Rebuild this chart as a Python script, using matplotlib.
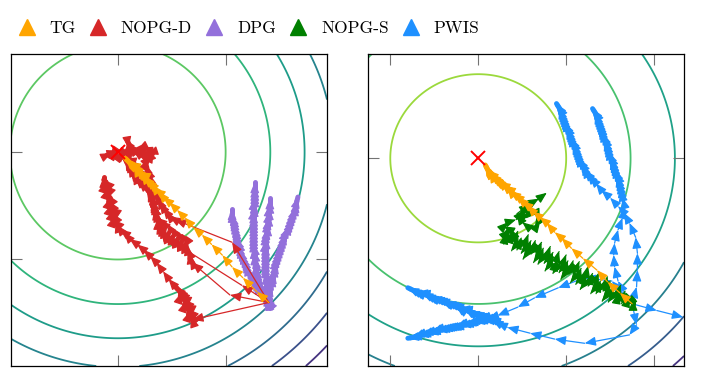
import numpy as np
import matplotlib.pyplot as plt
from matplotlib.colors import Normalize
from matplotlib.lines import Line2D
from matplotlib.patches import FancyArrowPatch
from matplotlib.collections import LineCollection

plt.rcParams['font.family'] = ['cmr10', 'DejaVu Serif']

# method colours / labels
labels = ['TG', 'NOPG-D', 'DPG', 'NOPG-S', 'PWIS']
colors = {'TG': '#FFA500', 'NOPG-D': '#D62728', 'DPG': '#9370DB',
          'NOPG-S': '#008000', 'PWIS': '#1E90FF'}

# contour levels of the quadratic objective
levels_left = [1, 2, 3, 4, 5, 6, 7]
levels_right = [1, 3, 5, 7, 9, 11]

# ---- left panel trajectories (x, y) ----
tg_left = [(1.40, -1.40), (1.29, -1.30), (1.16, -1.17), (1.06, -1.07), (0.97, -0.96),
           (0.87, -0.86), (0.78, -0.77), (0.70, -0.70), (0.62, -0.61), (0.55, -0.54),
           (0.48, -0.47), (0.42, -0.42), (0.38, -0.37), (0.34, -0.34), (0.31, -0.30),
           (0.28, -0.27), (0.26, -0.25), (0.24, -0.23), (0.22, -0.20), (0.20, -0.19),
           (0.18, -0.17), (0.17, -0.16), (0.16, -0.15), (0.15, -0.13), (0.14, -0.12),
           (0.13, -0.11), (0.11, -0.10), (0.10, -0.09), (0.09, -0.08), (0.08, -0.07),
           (0.07, -0.06)]

dpg_1 = [(1.40, -1.40), (1.38, -1.375), (1.36, -1.35), (1.34, -1.325), (1.32, -1.30),
         (1.30, -1.275), (1.28, -1.25), (1.265, -1.22), (1.25, -1.19), (1.235, -1.16),
         (1.22, -1.13), (1.205, -1.105), (1.19, -1.08), (1.18, -1.05), (1.17, -1.02),
         (1.16, -0.995), (1.15, -0.97), (1.14, -0.94), (1.13, -0.91), (1.125, -0.885),
         (1.12, -0.86), (1.11, -0.83), (1.10, -0.80), (1.095, -0.77), (1.09, -0.74),
         (1.085, -0.715), (1.08, -0.69), (1.075, -0.66), (1.07, -0.63), (1.065, -0.605),
         (1.06, -0.58), (1.06, -0.555), (1.06, -0.53)]
dpg_2 = [(1.40, -1.40), (1.38, -1.37), (1.365, -1.34), (1.35, -1.31), (1.335, -1.28),
         (1.32, -1.25), (1.31, -1.22), (1.30, -1.19), (1.295, -1.16), (1.29, -1.13),
         (1.285, -1.10), (1.28, -1.07), (1.28, -1.04), (1.275, -1.01), (1.27, -0.98),
         (1.27, -0.95), (1.265, -0.92), (1.265, -0.89), (1.26, -0.86), (1.26, -0.83),
         (1.26, -0.80), (1.26, -0.77), (1.26, -0.74), (1.26, -0.71), (1.26, -0.68),
         (1.26, -0.65), (1.26, -0.62), (1.26, -0.59), (1.26, -0.56), (1.265, -0.53),
         (1.265, -0.50), (1.265, -0.47), (1.27, -0.44), (1.27, -0.41), (1.27, -0.38),
         (1.27, -0.35), (1.27, -0.32), (1.27, -0.28)]
dpg_3 = [(1.40, -1.40), (1.395, -1.37), (1.39, -1.34), (1.39, -1.31), (1.385, -1.28),
         (1.385, -1.25), (1.38, -1.22), (1.38, -1.19), (1.375, -1.16), (1.375, -1.13),
         (1.37, -1.10), (1.37, -1.07), (1.37, -1.04), (1.37, -1.01), (1.37, -0.98),
         (1.37, -0.95), (1.37, -0.92), (1.37, -0.89), (1.37, -0.86), (1.375, -0.83),
         (1.375, -0.80), (1.38, -0.77), (1.385, -0.74), (1.39, -0.71), (1.39, -0.68),
         (1.395, -0.65), (1.40, -0.62), (1.40, -0.59), (1.405, -0.56), (1.405, -0.53),
         (1.41, -0.50), (1.41, -0.47), (1.41, -0.43)]
dpg_4 = [(1.40, -1.40), (1.40, -1.37), (1.405, -1.34), (1.41, -1.30), (1.415, -1.27),
         (1.42, -1.24), (1.43, -1.21), (1.44, -1.18), (1.445, -1.15), (1.45, -1.12),
         (1.46, -1.09), (1.465, -1.06), (1.47, -1.03), (1.48, -1.00), (1.49, -0.97),
         (1.50, -0.94), (1.51, -0.91), (1.52, -0.88), (1.53, -0.85), (1.54, -0.82),
         (1.55, -0.79), (1.56, -0.76), (1.575, -0.73), (1.59, -0.70), (1.60, -0.67),
         (1.61, -0.64), (1.62, -0.61), (1.63, -0.58), (1.64, -0.55), (1.65, -0.52),
         (1.655, -0.49), (1.66, -0.46), (1.67, -0.42)]

nopgd_1 = [(1.40, -1.40), (0.69, -1.56), (0.68, -1.53), (0.66, -1.51), (0.67, -1.48),
           (0.65, -1.46), (0.64, -1.43), (0.62, -1.42), (0.63, -1.39), (0.61, -1.37),
           (0.60, -1.35), (0.58, -1.34), (0.59, -1.31), (0.57, -1.29), (0.55, -1.27),
           (0.53, -1.25), (0.47, -1.18), (0.42, -1.11), (0.36, -1.03), (0.30, -0.97),
           (0.24, -0.91), (0.18, -0.86), (0.11, -0.81), (0.06, -0.75), (0.02, -0.72),
           (-0.01, -0.68), (-0.02, -0.65), (-0.04, -0.63), (-0.03, -0.60), (-0.05, -0.57),
           (-0.04, -0.54), (-0.07, -0.52), (-0.06, -0.49), (-0.08, -0.46), (-0.07, -0.43),
           (-0.09, -0.40), (-0.10, -0.37), (-0.09, -0.34), (-0.12, -0.31), (-0.11, -0.28),
           (-0.13, -0.26), (-0.13, -0.23)]
nopgd_2 = [(1.40, -1.40), (1.04, -1.33), (0.69, -1.03), (0.67, -0.99), (0.66, -0.94),
           (0.64, -0.90), (0.63, -0.86), (0.61, -0.89), (0.59, -0.84), (0.57, -0.87),
           (0.55, -0.82), (0.53, -0.85), (0.51, -0.79), (0.49, -0.82), (0.47, -0.76),
           (0.45, -0.79), (0.43, -0.73), (0.42, -0.76), (0.40, -0.70), (0.39, -0.73),
           (0.37, -0.66), (0.37, -0.62), (0.35, -0.58), (0.34, -0.53), (0.33, -0.48),
           (0.32, -0.44), (0.31, -0.39), (0.29, -0.33), (0.27, -0.29), (0.24, -0.24),
           (0.21, -0.20), (0.19, -0.17), (0.16, -0.13), (0.13, -0.10), (0.10, -0.07),
           (0.07, -0.06)]
nopgd_3 = [(1.40, -1.40), (1.15, -1.24), (0.44, -0.79), (0.42, -0.75), (0.40, -0.72),
           (0.39, -0.68), (0.38, -0.64), (0.36, -0.60), (0.35, -0.55), (0.33, -0.50),
           (0.32, -0.46), (0.30, -0.41), (0.28, -0.36), (0.26, -0.33), (0.22, -0.30),
           (0.19, -0.27), (0.16, -0.24), (0.14, -0.20), (0.12, -0.17), (0.10, -0.13),
           (0.08, -0.09), (0.07, -0.07), (0.02, -0.05), (-0.05, -0.02), (-0.10, -0.03),
           (-0.06, -0.01), (0.00, 0.01), (0.05, 0.00), (0.12, -0.02), (0.17, 0.01),
           (0.24, 0.00), (0.30, -0.03), (0.28, 0.02), (0.22, 0.04), (0.18, 0.02)]
nopgd_4 = [(1.40, -1.40), (1.06, -0.84), (0.53, -0.63), (0.48, -0.60), (0.45, -0.56),
           (0.42, -0.52), (0.39, -0.47), (0.37, -0.43), (0.35, -0.38), (0.33, -0.33),
           (0.32, -0.29), (0.30, -0.24), (0.29, -0.20), (0.27, -0.15), (0.26, -0.11),
           (0.28, -0.07), (0.31, -0.04), (0.33, 0.00), (0.27, -0.02), (0.22, -0.03),
           (0.18, -0.01), (0.14, 0.02), (0.11, 0.06), (0.09, 0.10), (0.10, 0.04),
           (0.07, -0.01), (0.03, -0.04), (-0.03, -0.05), (-0.07, -0.04), (-0.13, -0.03)]

# ---- right panel trajectories (x, y) ----
tg_right = [(1.75, -1.73), (1.61, -1.60), (1.47, -1.47), (1.35, -1.33), (1.19, -1.19),
            (1.06, -1.07), (0.95, -0.95), (0.87, -0.88), (0.78, -0.77), (0.70, -0.70),
            (0.62, -0.63), (0.56, -0.56), (0.50, -0.51), (0.45, -0.46), (0.40, -0.42),
            (0.36, -0.39), (0.33, -0.35), (0.30, -0.33), (0.27, -0.30), (0.24, -0.28),
            (0.22, -0.26), (0.20, -0.24), (0.19, -0.23), (0.17, -0.21), (0.16, -0.20),
            (0.14, -0.18), (0.13, -0.16), (0.11, -0.14), (0.10, -0.12), (0.09, -0.10),
            (0.08, -0.08)]

nopgs = [(1.76, -1.73), (1.76, -1.68), (1.68, -1.75), (1.71, -1.64), (1.63, -1.73),
         (1.67, -1.58), (1.57, -1.72), (1.59, -1.60), (1.62, -1.51), (1.48, -1.71),
         (1.54, -1.52), (1.41, -1.70), (1.50, -1.46), (1.42, -1.58), (1.47, -1.41),
         (1.34, -1.61), (1.39, -1.46), (1.28, -1.61), (1.37, -1.37), (1.25, -1.52),
         (1.30, -1.37), (1.16, -1.56), (1.23, -1.38), (1.25, -1.29), (1.11, -1.50),
         (1.17, -1.31), (1.05, -1.48), (1.15, -1.23), (1.03, -1.38), (1.08, -1.22),
         (0.94, -1.44), (1.02, -1.22), (0.92, -1.36), (1.00, -1.15), (0.85, -1.37),
         (0.89, -1.21), (0.92, -1.11), (0.76, -1.34), (0.85, -1.12), (0.75, -1.25),
         (0.82, -1.05), (0.68, -1.26), (0.74, -1.07), (0.63, -1.24), (0.72, -1.00),
         (0.60, -1.14), (0.65, -0.98), (0.51, -1.20), (0.60, -0.98), (0.49, -1.13),
         (0.57, -0.91), (0.44, -1.09), (0.49, -0.95), (0.38, -1.10), (0.45, -0.87),
         (0.35, -1.00), (0.39, -0.88), (0.29, -1.02), (0.32, -0.89), (0.36, -0.85),
         (0.29, -0.81), (0.34, -0.76), (0.43, -0.73), (0.52, -0.62), (0.47, -0.71),
         (0.59, -0.66), (0.67, -0.66), (0.70, -0.73), (0.64, -0.83), (0.56, -0.81),
         (0.50, -0.76), (0.44, -0.66), (0.59, -0.54), (0.69, -0.48), (0.78, -0.41)]

pwis_1 = [(1.75, -1.73), (1.80, -1.53), (1.81, -1.33), (1.81, -1.13), (1.79, -0.94),
          (1.72, -0.77), (1.66, -0.65), (1.59, -0.57), (1.50, -0.47), (1.40, -0.38),
          (1.34, -0.30), (1.27, -0.22), (1.24, -0.18), (1.21, -0.14), (1.195, -0.105),
          (1.18, -0.07), (1.16, -0.035), (1.14, 0.00), (1.13, 0.03), (1.12, 0.06),
          (1.11, 0.09), (1.10, 0.12), (1.09, 0.15), (1.08, 0.18), (1.065, 0.21),
          (1.05, 0.24), (1.04, 0.27), (1.03, 0.30), (1.02, 0.33), (1.01, 0.36),
          (0.995, 0.39), (0.98, 0.42), (0.97, 0.45), (0.96, 0.48), (0.95, 0.51),
          (0.94, 0.54), (0.93, 0.57), (0.92, 0.60), (0.905, 0.625), (0.89, 0.65)]
pwis_2 = [(1.75, -1.73), (1.67, -1.61), (1.59, -1.46), (1.55, -1.29), (1.54, -1.15),
          (1.55, -1.01), (1.59, -0.85), (1.64, -0.71), (1.67, -0.59), (1.64, -0.47),
          (1.62, -0.38), (1.61, -0.335), (1.60, -0.29), (1.59, -0.25), (1.58, -0.21),
          (1.565, -0.175), (1.55, -0.14), (1.54, -0.105), (1.53, -0.07), (1.52, -0.035),
          (1.51, 0.00), (1.495, 0.035), (1.48, 0.07), (1.47, 0.11), (1.46, 0.15),
          (1.45, 0.185), (1.44, 0.22), (1.425, 0.255), (1.41, 0.29), (1.40, 0.325),
          (1.39, 0.36), (1.38, 0.39), (1.37, 0.42), (1.36, 0.45), (1.35, 0.48),
          (1.34, 0.51), (1.33, 0.54), (1.315, 0.565), (1.30, 0.59)]
pwis_3 = [(1.75, -1.73), (1.80, -1.98), (1.72, -2.10), (1.21, -2.20), (0.87, -2.15),
          (0.59, -2.08), (0.33, -2.01), (0.21, -1.95), (0.16, -1.92), (0.13, -1.91),
          (0.10, -1.90), (0.075, -1.89), (0.05, -1.88), (0.025, -1.87), (0.00, -1.86),
          (-0.03, -1.85), (-0.06, -1.84), (-0.085, -1.83), (-0.11, -1.82), (-0.135, -1.805),
          (-0.16, -1.79), (-0.19, -1.785), (-0.22, -1.78), (-0.24, -1.765), (-0.26, -1.75),
          (-0.29, -1.74), (-0.32, -1.73), (-0.35, -1.72), (-0.38, -1.71), (-0.40, -1.70),
          (-0.42, -1.69), (-0.45, -1.68), (-0.48, -1.67), (-0.51, -1.66), (-0.54, -1.65),
          (-0.56, -1.64), (-0.58, -1.63), (-0.61, -1.615), (-0.64, -1.60), (-0.67, -1.595),
          (-0.70, -1.59), (-0.72, -1.58), (-0.74, -1.57), (-0.77, -1.555), (-0.80, -1.54)]
pwis_4 = [(1.75, -1.73), (1.52, -1.46), (1.21, -1.42), (0.91, -1.54), (0.64, -1.66),
          (0.45, -1.77), (0.22, -1.87), (0.11, -1.91), (0.08, -1.915), (0.05, -1.92),
          (0.03, -1.93), (0.01, -1.94), (-0.02, -1.945), (-0.05, -1.95), (-0.08, -1.96),
          (-0.11, -1.97), (-0.13, -1.975), (-0.15, -1.98), (-0.18, -1.985), (-0.21, -1.99),
          (-0.235, -2.00), (-0.26, -2.01), (-0.29, -2.015), (-0.32, -2.02), (-0.345, -2.025),
          (-0.37, -2.03), (-0.395, -2.035), (-0.42, -2.04), (-0.45, -2.045), (-0.48, -2.05),
          (-0.505, -2.06), (-0.53, -2.07), (-0.555, -2.075), (-0.58, -2.08), (-0.61, -2.09),
          (-0.64, -2.10), (-0.665, -2.105), (-0.69, -2.11), (-0.715, -2.12), (-0.74, -2.13),
          (-0.77, -2.135), (-0.80, -2.14)]
pwis_5 = [(1.75, -1.73), (2.03, -1.81), (2.33, -1.89)]


def draw_path(ax, pts, color, z):
    # runs of tiny steps merge into a solid band, as in the original arrow plot
    disp = ax.transData.transform(pts)
    short = [(p, q) for p, q, a, b in zip(pts[:-1], pts[1:], disp[:-1], disp[1:])
             if np.hypot(*(b - a)) < 5]
    if short:
        ax.add_collection(LineCollection(short, colors=color, linewidths=3.6,
                                         capstyle='round', zorder=z))
    for p, q in zip(pts[:-1], pts[1:]):
        ax.add_patch(FancyArrowPatch(p, q, arrowstyle='-|>,head_length=0.65,head_width=0.27',
                                     mutation_scale=10, color=color, lw=0.9,
                                     shrinkA=0, shrinkB=0, zorder=z))


def setup(ax, xlim, ylim, levels, norm, xticks, yticks):
    xs = np.linspace(xlim[0], xlim[1], 400)
    ys = np.linspace(ylim[0], ylim[1], 400)
    X, Y = np.meshgrid(xs, ys)
    ax.contour(X, Y, X**2 + Y**2, levels=levels, cmap='viridis_r', norm=norm,
               linewidths=1.3, zorder=1)
    ax.plot(0, 0, marker='x', color='red', ms=10, mew=1.4, zorder=10)
    ax.set_xlim(xlim)
    ax.set_ylim(ylim)
    ax.set_xticks(xticks)
    ax.set_yticks(yticks)
    ax.tick_params(direction='in', length=8, width=0.8, color='0.45',
                   top=True, right=True, labelbottom=False, labelleft=False)
    for s in ax.spines.values():
        s.set_linewidth(0.9)


fig = plt.figure(figsize=(7.01, 3.83), dpi=100)
ax1 = fig.add_axes([0.0157, 0.0444, 0.4508, 0.8146])
ax2 = fig.add_axes([0.5254, 0.0444, 0.4504, 0.8146])

setup(ax1, (-0.99, 1.94), (-1.99, 0.91), levels_left, Normalize(-1.5, 8.5), [0, 1], [-1, 0])
setup(ax2, (-1.25, 2.34), (-2.47, 1.24), levels_right, Normalize(-1.14, 13.14), [-1, 0, 1, 2], [0])

for path in [dpg_1, dpg_2, dpg_3, dpg_4]:
    draw_path(ax1, path, colors['DPG'], 3)
for path in [nopgd_1, nopgd_2, nopgd_3, nopgd_4]:
    draw_path(ax1, path, colors['NOPG-D'], 4)
draw_path(ax1, tg_left, colors['TG'], 5)

for path in [pwis_1, pwis_2, pwis_3, pwis_4, pwis_5]:
    draw_path(ax2, path, colors['PWIS'], 3)
draw_path(ax2, nopgs, colors['NOPG-S'], 4)
draw_path(ax2, tg_right, colors['TG'], 5)

handles = [Line2D([], [], marker='^', ls='none', color=colors[l], markersize=12) for l in labels]
fig.legend(handles, labels, loc='center left', bbox_to_anchor=(0.0257, 0.927), ncol=5,
           frameon=False, fontsize=12.5, handlelength=1.0, handletextpad=0.8,
           columnspacing=0.8, borderpad=0, borderaxespad=0)

fig.savefig('out.png', dpi=100)
